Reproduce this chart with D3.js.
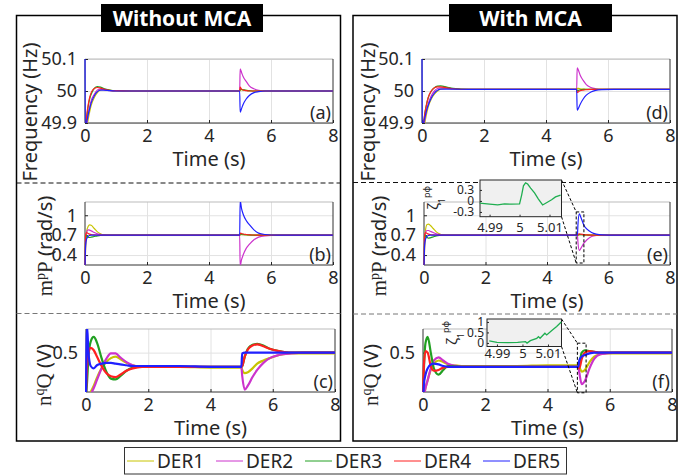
<!DOCTYPE html>
<html>
<head>
<meta charset="utf-8">
<script src="https://cdn.jsdelivr.net/npm/d3@7"></script>
<style>
  body { margin: 0; background: #fff; }
  text { font-family: "Noto Sans", sans-serif; fill: #262626; }
</style>
</head>
<body>
<svg id="chart" width="694" height="476"></svg>
<script>
var derNames = ["DER1", "DER2", "DER3", "DER4", "DER5"];
var derColors = ["#c8c400", "#cc33cc", "#22a022", "#ff2020", "#2020ff"];
var xTicks = [0, 2, 4, 6, 8];

// frequency (Hz)
var tFreq = [0, 0.01, 0.05, 0.1, 0.15, 0.2, 0.3, 0.4, 0.5, 0.6, 0.8, 1.0, 1.5, 2, 4.99, 5.005, 5.05, 5.1, 5.2, 5.3, 5.45, 5.6, 5.8, 6.2, 8];
var freqNoMCA = [
  [49.85, 49.86, 49.88, 49.91, 49.935, 49.955, 49.98, 49.995, 50.003, 50.005, 50.002, 50.0, 50.0, 50.0, 50.0, 50.003, 50.004, 50.003, 50.002, 50.001, 50.0, 50.0, 50.0, 50.0, 50.0],
  [49.85, 49.86, 49.89, 49.925, 49.95, 49.97, 49.99, 50.003, 50.006, 50.004, 50.001, 50.0, 50.0, 50.0, 50.0, 50.069, 50.058, 50.045, 50.03, 50.016, 50.007, 50.002, 50.0, 50.0, 50.0],
  [49.85, 49.87, 49.91, 49.95, 49.975, 49.99, 50.008, 50.014, 50.012, 50.008, 50.003, 50.001, 50.0, 50.0, 50.0, 50.004, 50.005, 50.004, 50.002, 50.001, 50.0, 50.0, 50.0, 50.0, 50.0],
  [49.85, 49.88, 49.92, 49.955, 49.98, 49.995, 50.008, 50.011, 50.009, 50.006, 50.002, 50.001, 50.0, 50.0, 50.0, 50.012, 50.006, 50.003, 50.001, 50.0, 50.0, 50.0, 50.0, 50.0, 50.0],
  [50.12, 49.88, 49.9, 49.925, 49.945, 49.963, 49.985, 49.998, 50.003, 50.003, 50.001, 50.0, 50.0, 50.0, 50.0, 49.934, 49.945, 49.958, 49.975, 49.986, 49.995, 49.998, 50.0, 50.0, 50.0]
];
var freqMCA = [
  [49.85, 49.86, 49.88, 49.905, 49.93, 49.95, 49.975, 49.99, 50.0, 50.006, 50.008, 50.007, 50.005, 50.005, 50.005, 50.008, 50.008, 50.007, 50.006, 50.005, 50.005, 50.005, 50.005, 50.005, 50.005],
  [49.85, 49.86, 49.885, 49.915, 49.94, 49.96, 49.985, 50.0, 50.008, 50.01, 50.009, 50.007, 50.005, 50.005, 50.005, 50.072, 50.064, 50.05, 50.033, 50.02, 50.011, 50.007, 50.005, 50.005, 50.005],
  [49.85, 49.87, 49.9, 49.935, 49.96, 49.978, 50.0, 50.01, 50.015, 50.016, 50.012, 50.008, 50.005, 50.005, 50.005, 50.0, 50.002, 50.004, 50.005, 50.005, 50.005, 50.005, 50.005, 50.005, 50.005],
  [49.85, 49.87, 49.9, 49.935, 49.96, 49.98, 50.0, 50.01, 50.013, 50.013, 50.01, 50.007, 50.005, 50.005, 50.005, 49.995, 49.998, 50.001, 50.003, 50.004, 50.005, 50.005, 50.005, 50.005, 50.005],
  [50.12, 49.88, 49.9, 49.92, 49.94, 49.955, 49.978, 49.993, 50.002, 50.006, 50.006, 50.006, 50.005, 50.005, 50.005, 49.94, 49.947, 49.958, 49.975, 49.987, 49.997, 50.002, 50.004, 50.005, 50.005]
];

// m^p P (rad/s)
var tPow = [0, 0.02, 0.05, 0.1, 0.15, 0.2, 0.3, 0.4, 0.5, 0.6, 0.8, 1.0, 2, 4.99, 5.005, 5.05, 5.1, 5.2, 5.3, 5.45, 5.6, 5.8, 6.2, 8];
var powNoMCA = [
  [0.2, 0.5, 0.75, 0.83, 0.855, 0.85, 0.8, 0.75, 0.72, 0.705, 0.7, 0.7, 0.7, 0.7, 0.705, 0.71, 0.708, 0.704, 0.702, 0.7, 0.7, 0.7, 0.7, 0.7],
  [0.2, 0.55, 0.74, 0.78, 0.775, 0.765, 0.74, 0.72, 0.71, 0.703, 0.7, 0.7, 0.7, 0.7, 0.24, 0.33, 0.4, 0.5, 0.56, 0.63, 0.67, 0.69, 0.7, 0.7],
  [0.2, 0.6, 0.7, 0.67, 0.665, 0.67, 0.68, 0.69, 0.697, 0.7, 0.7, 0.7, 0.7, 0.7, 0.71, 0.715, 0.712, 0.707, 0.703, 0.7, 0.7, 0.7, 0.7, 0.7],
  [0.2, 0.7, 0.74, 0.725, 0.715, 0.71, 0.705, 0.702, 0.7, 0.7, 0.7, 0.7, 0.7, 0.7, 0.73, 0.725, 0.718, 0.71, 0.705, 0.702, 0.7, 0.7, 0.7, 0.7],
  [0.2, 0.55, 0.64, 0.68, 0.695, 0.7, 0.7, 0.7, 0.7, 0.7, 0.7, 0.7, 0.7, 0.7, 1.22, 1.1, 1.02, 0.92, 0.86, 0.78, 0.73, 0.71, 0.7, 0.7]
];
var powMCA = [
  [0.2, 0.5, 0.78, 0.86, 0.865, 0.85, 0.8, 0.75, 0.72, 0.705, 0.7, 0.7, 0.7, 0.7, 0.7, 0.705, 0.71, 0.707, 0.703, 0.7, 0.7, 0.7, 0.7, 0.7],
  [0.2, 0.55, 0.74, 0.77, 0.77, 0.76, 0.74, 0.72, 0.71, 0.703, 0.7, 0.7, 0.7, 0.7, 0.6, 0.47, 0.5, 0.58, 0.63, 0.68, 0.695, 0.7, 0.7, 0.7],
  [0.2, 0.6, 0.7, 0.665, 0.655, 0.66, 0.675, 0.69, 0.697, 0.7, 0.7, 0.7, 0.7, 0.7, 0.7, 0.71, 0.708, 0.704, 0.702, 0.7, 0.7, 0.7, 0.7, 0.7],
  [0.2, 0.7, 0.74, 0.725, 0.715, 0.71, 0.705, 0.702, 0.7, 0.7, 0.7, 0.7, 0.7, 0.7, 0.71, 0.72, 0.715, 0.708, 0.704, 0.701, 0.7, 0.7, 0.7, 0.7],
  [0.2, 0.55, 0.64, 0.68, 0.695, 0.7, 0.7, 0.7, 0.7, 0.7, 0.7, 0.7, 0.7, 0.7, 0.85, 1.02, 0.97, 0.85, 0.79, 0.74, 0.715, 0.703, 0.7, 0.7]
];

// n^q Q (V)
var tQ = [0, 0.03, 0.08, 0.15, 0.25, 0.35, 0.5, 0.65, 0.8, 0.95, 1.1, 1.3, 1.5, 1.8, 2.2, 3, 4, 4.99, 5.02, 5.1, 5.2, 5.35, 5.5, 5.7, 5.9, 6.2, 6.6, 7, 8];
var qNoMCA = [
  [-0.1, -0.1, -0.05, 0.0, 0.08, 0.18, 0.3, 0.38, 0.43, 0.45, 0.42, 0.37, 0.34, 0.32, 0.32, 0.32, 0.31, 0.31, 0.28, 0.24, 0.25, 0.3, 0.36, 0.4, 0.43, 0.47, 0.49, 0.49, 0.49],
  [-0.1, -0.1, -0.08, -0.03, 0.05, 0.15, 0.3, 0.42, 0.49, 0.49, 0.44, 0.38, 0.34, 0.32, 0.32, 0.32, 0.32, 0.32, 0.2, 0.03, 0.08, 0.19, 0.28, 0.37, 0.43, 0.47, 0.49, 0.5, 0.5],
  [-0.05, 0.1, 0.45, 0.64, 0.7, 0.63, 0.43, 0.26, 0.17, 0.16, 0.2, 0.27, 0.31, 0.325, 0.325, 0.32, 0.32, 0.32, 0.33, 0.45, 0.55, 0.6, 0.61, 0.59, 0.55, 0.52, 0.5, 0.5, 0.5],
  [-0.05, 0.3, 0.5, 0.56, 0.53, 0.45, 0.33, 0.24, 0.2, 0.19, 0.22, 0.27, 0.3, 0.32, 0.32, 0.32, 0.32, 0.32, 0.33, 0.45, 0.54, 0.59, 0.605, 0.58, 0.55, 0.52, 0.5, 0.5, 0.5],
  [-0.1, 0.85, 0.5, 0.33, 0.3, 0.34, 0.36, 0.37, 0.37, 0.36, 0.35, 0.34, 0.33, 0.33, 0.33, 0.33, 0.32, 0.32, 0.49, 0.5, 0.5, 0.5, 0.5, 0.5, 0.5, 0.5, 0.5, 0.5, 0.5]
];
var qMCA = [
  [-0.1, -0.05, 0.05, 0.15, 0.28, 0.36, 0.4, 0.38, 0.35, 0.34, 0.335, 0.33, 0.33, 0.33, 0.33, 0.33, 0.34, 0.34, 0.32, 0.26, 0.28, 0.38, 0.45, 0.48, 0.49, 0.49, 0.49, 0.49, 0.49],
  [-0.1, -0.05, 0.05, 0.15, 0.3, 0.4, 0.44, 0.4, 0.36, 0.34, 0.33, 0.32, 0.32, 0.32, 0.32, 0.32, 0.32, 0.32, 0.25, 0.1, 0.14, 0.3, 0.42, 0.48, 0.49, 0.5, 0.5, 0.5, 0.5],
  [-0.05, 0.3, 0.62, 0.7, 0.5, 0.3, 0.22, 0.28, 0.33, 0.33, 0.325, 0.32, 0.32, 0.32, 0.32, 0.32, 0.32, 0.32, 0.35, 0.5, 0.53, 0.52, 0.51, 0.5, 0.5, 0.5, 0.5, 0.5, 0.5],
  [-0.05, 0.35, 0.52, 0.5, 0.33, 0.27, 0.28, 0.31, 0.32, 0.32, 0.32, 0.32, 0.32, 0.32, 0.32, 0.32, 0.32, 0.32, 0.3, 0.42, 0.5, 0.52, 0.51, 0.5, 0.5, 0.5, 0.5, 0.5, 0.5],
  [-0.1, 0.1, 0.22, 0.3, 0.35, 0.36, 0.35, 0.33, 0.32, 0.32, 0.32, 0.32, 0.32, 0.32, 0.32, 0.32, 0.32, 0.32, 0.4, 0.45, 0.47, 0.49, 0.5, 0.5, 0.5, 0.5, 0.5, 0.5, 0.5]
];

// zoomed insets (zeta_1^{p phi})
var zoomPTime = [4.9867, 4.99, 4.9927, 4.995, 4.9973, 5.0, 5.0007, 5.0013, 5.002, 5.0027, 5.0037, 5.005, 5.0063, 5.0077, 5.009, 5.0107, 5.012, 5.0137];
var zoomPVal = [-0.06, -0.09, -0.11, -0.08, -0.09, -0.08, 0.16, 0.41, 0.49, 0.46, 0.35, 0.22, 0.05, -0.11, -0.05, 0.03, 0.11, 0.16];
var zoomQTime = [4.987, 4.99, 4.9942, 4.9981, 5.0012, 5.0018, 5.0031, 5.0056, 5.0063, 5.0069, 5.0088, 5.0095, 5.0115, 5.0134, 5.0152];
var zoomQVal = [0.095, 0.03, 0.015, 0.03, 0.06, -0.01, 0.11, 0.22, 0.3, 0.22, 0.46, 0.38, 0.59, 0.78, 1.0];

var svg = d3.select("#chart");
svg.append("rect").attr("width", 694).attr("height", 476).attr("fill", "#fff");

// outer boxes + separators
var boxes = [
  {x: 16.5, w: 324, title: "Without MCA", tx: 101, tw: 162, dash: [183, 313.5]},
  {x: 353, w: 324, title: "With MCA", tx: 449, tw: 163, dash: [182.5, 314]}
];
boxes.forEach(b => {
  svg.append("rect").attr("x", b.x).attr("y", 15.5).attr("width", b.w).attr("height", 425.5)
    .attr("fill", "none").attr("stroke", "#000").attr("stroke-width", 1.5);
  svg.append("line").attr("x1", b.x).attr("x2", b.x + b.w).attr("y1", b.dash[0]).attr("y2", b.dash[0])
    .attr("stroke", "#111").attr("stroke-dasharray", "5,3");
  svg.append("line").attr("x1", b.x).attr("x2", b.x + b.w).attr("y1", b.dash[1]).attr("y2", b.dash[1])
    .attr("stroke", "#777").attr("stroke-dasharray", "5,3");
  svg.append("rect").attr("x", b.tx).attr("y", 4).attr("width", b.tw).attr("height", 28).attr("fill", "#000");
  svg.append("text").attr("x", b.tx + b.tw / 2).attr("y", 25.5).attr("text-anchor", "middle")
    .style("fill", "#fff").attr("font-weight", "bold").attr("font-size", 21).text(b.title);
});

function styleAxis(g, size) {
  g.select(".domain").remove();
  g.attr("font-size", size).attr("font-family", '"Noto Sans", sans-serif').attr("color", "#262626");
}

function yLabel(kind, cx, cy) {
  var t = svg.append("text")
    .attr("transform", `translate(${cx + 7},${cy}) rotate(-90)`)
    .attr("text-anchor", "middle").attr("font-size", 20);
  if (kind == "freq") {
    t.text("Frequency (Hz)");
    return;
  }
  var serif = '"Liberation Serif", "DejaVu Serif", serif';
  var a = kind == "p" ? ["m", "p", "P", " (rad/s)"] : ["n", "q", "Q", " (V)"];
  t.append("tspan").style("font-family", serif).attr("font-size", 21).text(a[0]);
  t.append("tspan").style("font-family", serif).attr("font-size", 14).attr("baseline-shift", "super").text(a[1]);
  t.append("tspan").style("font-family", serif).attr("font-size", 21).text(a[2]);
  t.append("tspan").text(a[3]);
}

function drawPanel(p, idx) {
  var x = d3.scaleLinear().domain([0, 8]).range([p.left, p.right]);
  var y = d3.scaleLinear().domain(p.yDomain).range([p.bottom, p.top]);
  var w = p.right - p.left, h = p.bottom - p.top;

  // grid
  svg.append("g").attr("transform", `translate(0,${p.bottom})`)
    .call(d3.axisBottom(x).tickValues([2, 4, 6]).tickSize(-h).tickFormat(""))
    .call(g => g.select(".domain").remove())
    .selectAll("line").attr("stroke", "#e2e2e2");
  svg.append("g").attr("transform", `translate(${p.left},0)`)
    .call(d3.axisLeft(y).tickValues(p.yTicks).tickSize(-w).tickFormat(""))
    .call(g => g.select(".domain").remove())
    .selectAll("line").attr("stroke", "#e2e2e2");

  // frame
  svg.append("line").attr("x1", p.left).attr("x2", p.right).attr("y1", p.top).attr("y2", p.top).attr("stroke", "#bbb");
  svg.append("path")
    .attr("d", `M${p.left},${p.top}V${p.bottom}H${p.right}V${p.top}`)
    .attr("fill", "none").attr("stroke", "#333");

  // ticks
  svg.append("g").attr("transform", `translate(0,${p.bottom})`)
    .call(d3.axisBottom(x).tickValues(xTicks).tickSize(-3).tickPadding(6).tickFormat(d => d))
    .call(g => styleAxis(g, 18));
  svg.append("g").attr("transform", `translate(${p.left},0)`)
    .call(d3.axisLeft(y).tickValues(p.yTicks).tickSize(-3).tickPadding(8).tickFormat(d => d))
    .call(g => styleAxis(g, 18));

  // curves
  var clipId = "clip" + idx;
  svg.append("clipPath").attr("id", clipId).append("rect")
    .attr("x", p.left - 1).attr("y", p.top).attr("width", w + 2).attr("height", h);
  var line = d3.line()
    .x((d, i) => x(p.times[i]))
    .y(d => y(d))
    .curve(d3.curveMonotoneX);
  svg.append("g").attr("clip-path", `url(#${clipId})`)
    .selectAll("path").data(p.series).join("path")
    .attr("d", line)
    .attr("fill", "none")
    .attr("stroke", (d, i) => derColors[i])
    .attr("stroke-width", p.sw)
    .attr("stroke-linejoin", "round");

  svg.append("text").attr("x", p.right - 2).attr("y", p.bottom - 4)
    .attr("text-anchor", "end").attr("font-size", 18).text(p.tag);
  svg.append("text").attr("x", (p.left + p.right) / 2).attr("y", p.bottom + 43)
    .attr("text-anchor", "middle").attr("font-size", 20).text("Time (s)");
  yLabel(p.kind, p.lx, p.ly);
  return {x: x, y: y};
}

var panels = [
  {left: 85, right: 333, top: 59, bottom: 123, yDomain: [49.9, 50.1], yTicks: [49.9, 50, 50.1], times: tFreq, series: freqNoMCA, tag: "(a)", kind: "freq", lx: 30, ly: 112, sw: 1.2},
  {left: 85, right: 333, top: 202, bottom: 265, yDomain: [0.25, 1.2], yTicks: [0.4, 0.7, 1], times: tPow, series: powNoMCA, tag: "(b)", kind: "p", lx: 45, ly: 246, sw: 1.2},
  {left: 86, right: 335, top: 329, bottom: 392, yDomain: [0, 0.8], yTicks: [0.5], times: tQ, series: qNoMCA, tag: "(c)", kind: "q", lx: 44, ly: 375, sw: 2.2},
  {left: 422, right: 670, top: 59, bottom: 123, yDomain: [49.9, 50.1], yTicks: [49.9, 50, 50.1], times: tFreq, series: freqMCA, tag: "(d)", kind: "freq", lx: 368, ly: 112, sw: 1.2},
  {left: 424, right: 670, top: 202, bottom: 265, yDomain: [0.25, 1.2], yTicks: [0.4, 0.7, 1], times: tPow, series: powMCA, tag: "(e)", kind: "p", lx: 379, ly: 246, sw: 1.2},
  {left: 423, right: 672, top: 329, bottom: 392, yDomain: [0, 0.8], yTicks: [0.5], times: tQ, series: qMCA, tag: "(f)", kind: "q", lx: 371, ly: 375, sw: 2.2}
];
var scales = panels.map(drawPanel);

function drawInset(o) {
  var x = d3.scaleLinear().domain(o.xDomain).range([o.left, o.right]);
  var y = d3.scaleLinear().domain(o.yDomain).range([o.bottom, o.top]);
  var host = o.host;

  // zoom window and connectors
  var rx0 = host.x(o.win[0]), rx1 = host.x(o.win[1]);
  var ry0 = host.y(o.win[3]), ry1 = host.y(o.win[2]);
  svg.append("rect").attr("x", rx0).attr("y", ry0).attr("width", rx1 - rx0).attr("height", ry1 - ry0)
    .attr("fill", "none").attr("stroke", "#000").attr("stroke-dasharray", "3,2");
  svg.append("line").attr("x1", o.right).attr("y1", o.top).attr("x2", rx0).attr("y2", ry0)
    .attr("stroke", "#000").attr("stroke-dasharray", "3,2");
  svg.append("line").attr("x1", o.right).attr("y1", o.bottom).attr("x2", rx0).attr("y2", ry1)
    .attr("stroke", "#000").attr("stroke-dasharray", "3,2");

  svg.append("rect").attr("x", o.left).attr("y", o.top)
    .attr("width", o.right - o.left).attr("height", o.bottom - o.top)
    .attr("fill", "#f0f0f0").attr("stroke", "#262626");

  svg.append("g").attr("transform", `translate(0,${o.bottom})`)
    .call(d3.axisBottom(x).tickValues(o.xTicks).tickSize(-2).tickPadding(o.xPad).tickFormat(d => d))
    .call(g => styleAxis(g, 13));
  svg.append("g").attr("transform", `translate(${o.left},0)`)
    .call(d3.axisLeft(y).tickValues(o.yTicks).tickSize(-2).tickPadding(o.yPad).tickFormat(d => d))
    .call(g => styleAxis(g, 12));

  var line = d3.line().x((d, i) => x(o.times[i])).y(d => y(d));
  svg.append("path").datum(o.values).attr("d", line)
    .attr("fill", "none").attr("stroke", "#1fae50").attr("stroke-width", 1.3);

  var t = svg.append("text")
    .attr("transform", `translate(${o.lx + 4},${o.ly}) rotate(-90)`)
    .attr("text-anchor", "middle").attr("font-size", 15);
  t.append("tspan").text("ζ");
  t.append("tspan").attr("font-size", 9).attr("baseline-shift", "sub").text("1");
  t.append("tspan").attr("font-size", 9).attr("dy", -8).text("pφ");
}

drawInset({host: scales[4], left: 480, right: 561.5, top: 180, bottom: 216.7,
  xDomain: [4.9868, 5.014], yDomain: [-0.43, 0.57], xTicks: [4.99, 5, 5.01], yTicks: [-0.3, 0, 0.3],
  xPad: 6, yPad: 6, times: zoomPTime, values: zoomPVal, win: [4.95, 5.2, 0.28, 1.05], lx: 434, ly: 198});
drawInset({host: scales[5], left: 487, right: 561.5, top: 319, bottom: 346.5,
  xDomain: [4.9861, 5.0153], yDomain: [-0.17, 1.14], xTicks: [4.99, 5, 5.01], yTicks: [0, 0.5, 1],
  xPad: 2, yPad: 3, times: zoomQTime, values: zoomQVal, win: [4.96, 5.24, -0.01, 0.62], lx: 453, ly: 333});

// legend
svg.append("rect").attr("x", 124.5).attr("y", 447.5).attr("width", 442).attr("height", 26.5)
  .attr("fill", "#fff").attr("stroke", "#333");
var legendX = d3.scalePoint().domain(derNames).range([127, 483]);
var items = svg.append("g").selectAll("g").data(derNames).join("g")
  .attr("transform", d => `translate(${legendX(d)},0)`);
items.append("line").attr("x1", 0).attr("x2", 27).attr("y1", 461).attr("y2", 461)
  .attr("stroke", (d, i) => derColors[i]);
items.append("text").attr("x", 30).attr("y", 468).attr("font-size", 19).text(d => d);
</script>
</body>
</html>
